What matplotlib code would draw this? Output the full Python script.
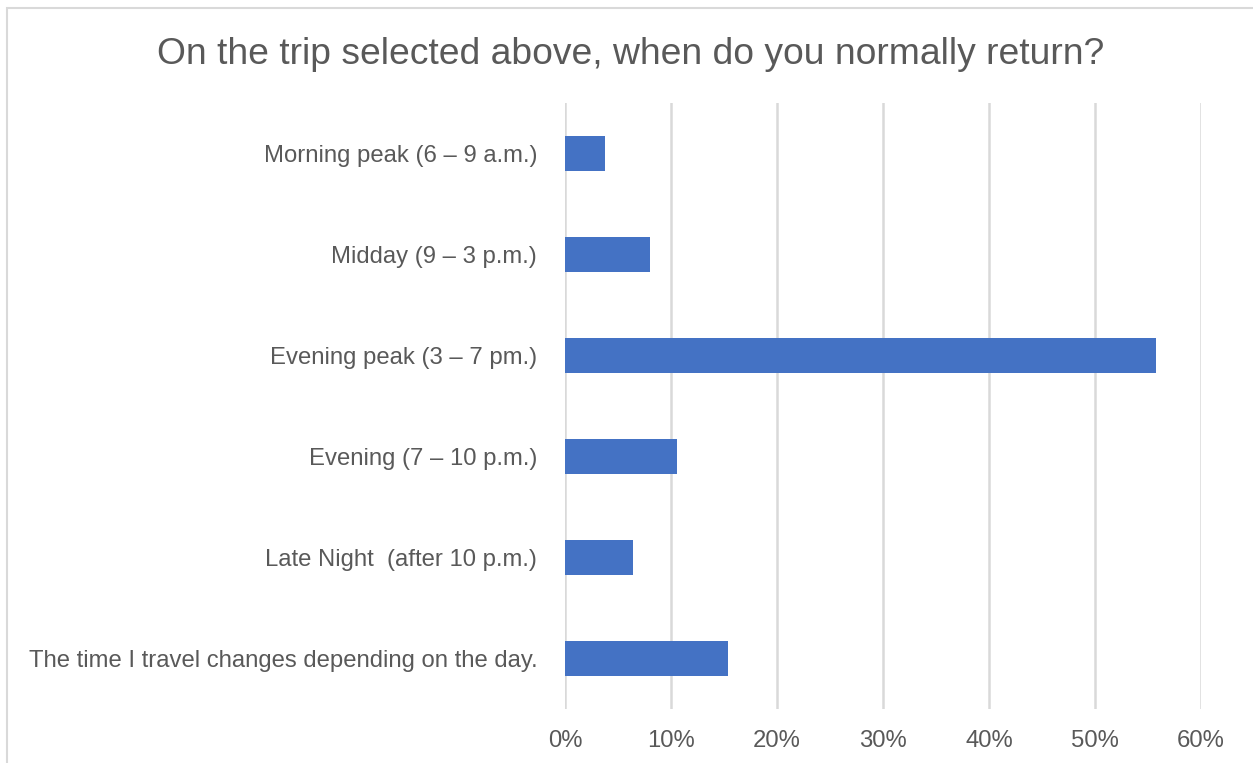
import matplotlib
matplotlib.use("Agg")
import matplotlib.pyplot as plt
from matplotlib.patches import Rectangle
from matplotlib.ticker import PercentFormatter

# categories top to bottom, as shown in the chart
categories = [
    "Morning peak (6 \u2013 9 a.m.)",
    "Midday (9 \u2013 3 p.m.)",
    "Evening peak (3 \u2013 7 pm.)",
    "Evening (7 \u2013 10 p.m.)",
    "Late Night  (after 10 p.m.)",
    "The time I travel changes depending on the day.",
]
shares = [3.8, 8.0, 55.8, 10.6, 6.4, 15.4]
x_ticks = [0, 10, 20, 30, 40, 50, 60]

bar_color = "#4472C4"
grid_color = "#D9D9D9"
text_color = "#595959"

plt.rcParams["font.family"] = ["Liberation Sans", "DejaVu Sans"]

fig = plt.figure(figsize=(12.53, 7.63), dpi=100)
ax = fig.add_axes([0.4509, 0.0708, 0.5076, 0.7942])

# outer chart frame (right and bottom edges run off the image)
fig.patches.append(Rectangle((7 / 1253, -0.05), 1.1, 1 - 8 / 763 + 0.05,
                             transform=fig.transFigure, fill=False,
                             edgecolor=grid_color, linewidth=1.5))

pos = list(range(len(categories)))
ax.barh(pos, shares, height=0.35, color=bar_color, zorder=3)

ax.set_ylim(len(categories) - 0.5, -0.5)
ax.set_xlim(0, 60)
ax.set_yticks(pos)
ax.set_yticklabels(categories)
ax.set_xticks(x_ticks)
ax.xaxis.set_major_formatter(PercentFormatter(decimals=0))

ax.grid(axis="x", color=grid_color, linewidth=1.8, zorder=0)
ax.grid(axis="y", visible=False)
for s in ax.spines.values():
    s.set_visible(False)
ax.tick_params(axis="both", length=0, labelsize=17.2, labelcolor=text_color)
ax.tick_params(axis="y", pad=20)
ax.tick_params(axis="x", pad=15)

fig.text(0.503, 0.929, "On the trip selected above, when do you normally return?",
         ha="center", va="center", fontsize=26.8, color=text_color)

fig.savefig("out.png", dpi=100)
